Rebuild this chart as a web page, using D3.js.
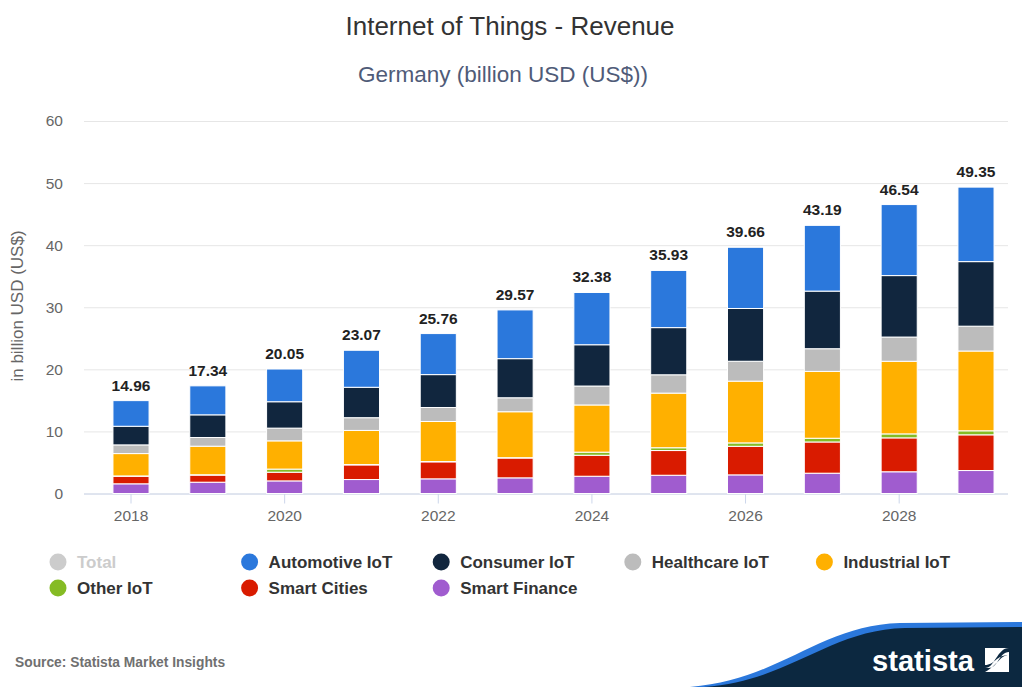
<!DOCTYPE html>
<html>
<head>
<meta charset="utf-8">
<script src="https://cdn.jsdelivr.net/npm/d3@7"></script>
<style>
  html, body { margin: 0; padding: 0; background: #fff; }
  svg { display: block; font-family: "Liberation Sans", Arial, sans-serif; }
</style>
</head>
<body>
<svg id="chart" width="1022" height="687"></svg>
<script>
// Internet of Things revenue in Germany, billion US$, by segment
const years = ["2018","2019","2020","2021","2022","2023","2024","2025","2026","2027","2028","2029"];
const smartFinance = [1.56, 1.82, 2.03, 2.25, 2.36, 2.52, 2.78, 2.94, 3.00, 3.27, 3.50, 3.70];
const smartCities  = [1.22, 1.15, 1.40, 2.36, 2.74, 3.20, 3.38, 3.98, 4.60, 5.03, 5.46, 5.75];
const otherIoT     = [0.05, 0.05, 0.50, 0.05, 0.05, 0.05, 0.50, 0.45, 0.55, 0.60, 0.64, 0.65];
const industrial   = [3.60, 4.60, 4.55, 5.50, 6.45, 7.40, 7.60, 8.80, 9.95, 10.77, 11.70, 12.85];
const healthcare   = [1.40, 1.40, 2.05, 2.05, 2.25, 2.25, 3.05, 2.95, 3.20, 3.65, 3.90, 4.00];
const consumer     = [3.00, 3.65, 4.25, 4.90, 5.30, 6.30, 6.65, 7.60, 8.50, 9.28, 9.90, 10.40];
const automotive   = [4.13, 4.67, 5.27, 5.96, 6.61, 7.85, 8.42, 9.21, 9.86, 10.59, 11.44, 12.00];
const totals       = [14.96, 17.34, 20.05, 23.07, 25.76, 29.57, 32.38, 35.93, 39.66, 43.19, 46.54, 49.35];
const yTicks = [0, 10, 20, 30, 40, 50, 60];
const xTickLabels = ["2018","2020","2022","2024","2026","2028"];

// stack order, bottom to top
const seriesNames = ["Smart Finance","Smart Cities","Other IoT","Industrial IoT","Healthcare IoT","Consumer IoT","Automotive IoT"];
const seriesValues = [smartFinance, smartCities, otherIoT, industrial, healthcare, consumer, automotive];
const colors = {
  "Total": "#cccccc",
  "Automotive IoT": "#2b78dc",
  "Consumer IoT": "#11263e",
  "Healthcare IoT": "#bcbcbc",
  "Industrial IoT": "#ffb000",
  "Other IoT": "#85bb24",
  "Smart Cities": "#d91b00",
  "Smart Finance": "#a05ccf"
};
const legendRows = [
  ["Total","Automotive IoT","Consumer IoT","Healthcare IoT","Industrial IoT"],
  ["Other IoT","Smart Cities","Smart Finance"]
];

const svg = d3.select("#chart");

// table of rows for d3.stack
const rows = years.map((y, i) => {
  const r = { year: y };
  seriesNames.forEach((n, k) => { r[n] = seriesValues[k][i]; });
  return r;
});
const stacked = d3.stack().keys(seriesNames)(rows);

const x = d3.scaleBand().domain(years).range([92.6, 1014.4]).paddingInner(0.53).paddingOuter(0.265);
const y = d3.scaleLinear().domain([0, 60]).range([493.5, 121]);

// titles
svg.append("text").attr("x", 510).attr("y", 35).attr("text-anchor", "middle")
  .attr("font-size", 26).attr("fill", "#333").text("Internet of Things - Revenue");
svg.append("text").attr("x", 503).attr("y", 82).attr("text-anchor", "middle")
  .attr("font-size", 22.5).attr("fill", "#4f5b78").text("Germany (billion USD (US$))");

// y axis with gridlines
const yAxis = svg.append("g").attr("transform", "translate(84,0)")
  .call(d3.axisLeft(y).tickValues(yTicks).tickSize(-924).tickPadding(21));
yAxis.select(".domain").remove();
yAxis.selectAll(".tick line").attr("stroke", "#e6e6e6");
yAxis.selectAll(".tick text").attr("fill", "#666").attr("font-size", 15.5)
  .attr("font-family", "Liberation Sans, Arial, sans-serif");

svg.append("text")
  .attr("transform", "translate(23,306) rotate(-90)")
  .attr("text-anchor", "middle").attr("font-size", 17).attr("fill", "#666")
  .text("in billion USD (US$)");

// x axis
const xAxis = svg.append("g").attr("transform", `translate(0,${y(0)})`)
  .call(d3.axisBottom(x).tickValues(xTickLabels).tickSize(10).tickPadding(6).tickSizeOuter(0));
xAxis.select(".domain").attr("stroke", "#ccd6eb").attr("d", `M84,0.5H1008`);
xAxis.selectAll(".tick line").attr("stroke", "#ccd6eb");
xAxis.selectAll(".tick text").attr("fill", "#666").attr("font-size", 15.5)
  .attr("font-family", "Liberation Sans, Arial, sans-serif");

// stacked bars
svg.append("g").selectAll("g").data(stacked).join("g")
  .attr("fill", d => colors[d.key])
  .selectAll("rect").data(d => d).join("rect")
  .attr("x", d => x(d.data.year))
  .attr("width", x.bandwidth())
  .attr("y", d => y(d[1]))
  .attr("height", d => Math.max(0, y(d[0]) - y(d[1])))
  .attr("stroke", "#fff").attr("stroke-width", 1);

// total labels
svg.append("g").selectAll("text").data(years).join("text")
  .attr("x", d => x(d) + x.bandwidth() / 2)
  .attr("y", (d, i) => y(totals[i]) - 10)
  .attr("text-anchor", "middle").attr("font-size", 15.5).attr("font-weight", "bold")
  .attr("fill", "#222").text((d, i) => totals[i].toFixed(2));

// legend
legendRows.forEach((row, r) => {
  row.forEach((name, c) => {
    const g = svg.append("g").attr("transform", `translate(${58 + c * 191.6},${562 + r * 26})`);
    g.append("circle").attr("r", 8.5).attr("fill", colors[name]);
    g.append("text").attr("x", 19).attr("y", 6).attr("font-size", 17).attr("font-weight", "bold")
      .attr("fill", name === "Total" ? "#cccccc" : "#333").text(name);
  });
});

// source
svg.append("text").attr("x", 15).attr("y", 667).attr("font-size", 13.8).attr("font-weight", "bold")
  .attr("fill", "#707070").text("Source: Statista Market Insights");

// brand banner
const logo = svg.append("g");
logo.append("path")
  .attr("d", "M690,687 C780,680 820,625 900,623 L1022,622 L1022,687 Z")
  .attr("fill", "#2b78dc");
logo.append("path")
  .attr("d", "M704,687 C790,681 828,630 905,628 L1022,627 L1022,687 Z")
  .attr("fill", "#0c2840");
logo.append("text").attr("x", 872).attr("y", 671).attr("font-size", 30).attr("font-weight", "bold")
  .attr("fill", "#fff").attr("textLength", 102).attr("lengthAdjust", "spacingAndGlyphs")
  .text("statista");
logo.append("rect").attr("x", 985).attr("y", 648).attr("width", 24).attr("height", 24).attr("fill", "#fff");
logo.append("path")
  .attr("d", "M985,672 L985,665 C995,665 996,655 1009,655 L1009,648 L1009,655 C1000,655 998,665 985,672 Z M989,668 C998,668 999,652 1009,652 L1009,648 C997,648 995,668 985,668 Z")
  .attr("fill", "#0c2840");
</script>
</body>
</html>
